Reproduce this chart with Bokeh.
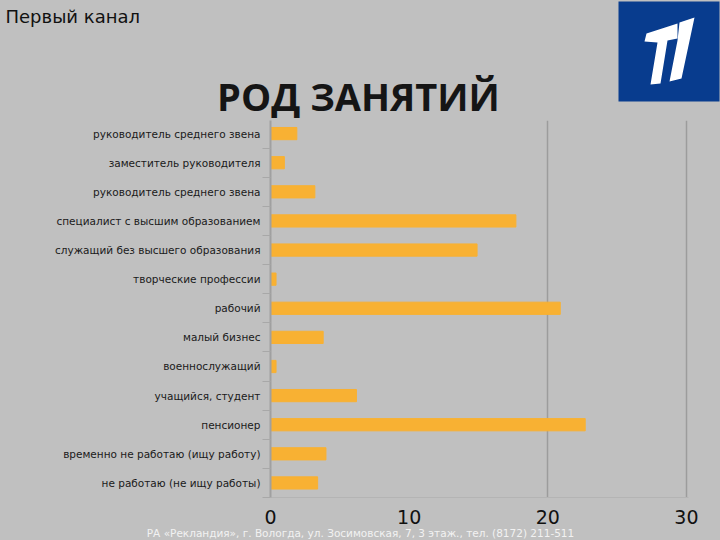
from bokeh.plotting import figure
from bokeh.layouts import column
from bokeh.models import Range1d, FixedTicker
from bokeh.core.properties import value
from bokeh.embed import file_html
from bokeh.resources import INLINE

# ---- data ----
categories = [
    "руководитель среднего звена",
    "заместитель руководителя",
    "руководитель среднего звена",
    "специалист с высшим образованием",
    "служащий без высшего образования",
    "творческие профессии",
    "рабочий",
    "малый бизнес",
    "военнослужащий",
    "учащийся, студент",
    "пенсионер",
    "временно не работаю (ищу работу)",
    "не работаю (не ищу работы)",
]
values = [1.9, 1.0, 3.2, 17.7, 14.9, 0.4, 20.9, 3.8, 0.4, 6.2, 22.7, 4.0, 3.4]
x_ticks = [0, 10, 20, 30]
grid_ticks = [20, 30]
title_text = "РОД ЗАНЯТИЙ"
channel_text = "Первый канал"
footer_text = "РА «Рекландия», г. Вологда, ул. Зосимовская, 7, 3 этаж., тел. (8172) 211-511"

positions = list(range(len(categories)))
BG = "#c0c0c0"
W = 720
HEAD_H, MAIN_H, FOOT_H = 118, 408, 14


def blank(height):
    f = figure(width=W, height=height, output_backend="svg", toolbar_location=None,
               x_range=Range1d(0, W), y_range=Range1d(height, 0),
               x_axis_type=None, y_axis_type=None,
               min_border=0, min_border_left=0, min_border_right=0,
               min_border_top=0, min_border_bottom=0)
    f.background_fill_color = BG
    f.border_fill_color = BG
    f.outline_line_color = None
    f.grid.grid_line_color = None
    f.frame_align = False
    return f


# ---- header ----
head = blank(HEAD_H)
head.text(x=[5], y=[16], text=[channel_text], text_font=value("DejaVu Sans"),
          text_font_size="18px", text_color="#111111", text_baseline="middle",
          text_align="left")
head.text(x=[358], y=[95], text=[title_text], text_font=value("Open Sans"),
          text_font_style="bold", text_font_size="38px", text_color="#151515",
          text_baseline="middle", text_align="center", text_line_height=1.0)
# channel logo
head.quad(left=[618], right=[719], top=[1], bottom=[101], fill_color="#083c8e", line_color=None)
head.patch(x=[646, 677, 677, 667, 660, 650, 657, 644],
           y=[33, 23, 38, 40, 83, 84, 42, 41], fill_color="white", line_color=None)
head.patch(x=[679, 694, 681, 669, 677], y=[22, 17, 78, 81, 40],
           fill_color="white", line_color=None)

# ---- main chart ----
p = figure(width=W, height=MAIN_H, output_backend="svg", toolbar_location=None,
           x_range=Range1d(0, 30.15), y_range=Range1d(len(categories) - 0.5, -0.45),
           min_border_left=270, min_border_right=32, min_border_top=120 - HEAD_H,
           min_border_bottom=HEAD_H + MAIN_H - 498)
p.background_fill_color = BG
p.border_fill_color = BG
p.outline_line_color = None
p.frame_align = False

p.hbar(y=positions, right=values, left=0, height=0.42, color="#f8b133")

p.yaxis.ticker = FixedTicker(ticks=positions,
                             minor_ticks=[i + 0.5 for i in range(-1, len(categories))])
p.yaxis.major_label_overrides = {i: c for i, c in enumerate(categories)}
p.yaxis.major_tick_out = 0
p.yaxis.major_tick_in = 0
p.yaxis.minor_tick_out = 8
p.yaxis.minor_tick_in = 0
p.yaxis.minor_tick_line_color = "#a8a8a8"
p.yaxis.axis_line_color = "#a0a0a0"
p.yaxis.axis_line_width = 2
p.yaxis.major_label_standoff = 2
p.yaxis.major_label_text_font = "DejaVu Sans"
p.yaxis.major_label_text_font_size = "10.5px"
p.yaxis.major_label_text_color = "#1a1a1a"

p.xaxis.ticker = FixedTicker(ticks=x_ticks)
p.xaxis.axis_line_color = "#b4b4b4"
p.xaxis.major_tick_line_color = None
p.xaxis.minor_tick_line_color = None
p.xaxis.major_label_standoff = 6
p.xaxis.major_label_text_font = "DejaVu Sans"
p.xaxis.major_label_text_font_size = "19px"
p.xaxis.major_label_text_color = "#111111"

p.ygrid.grid_line_color = None
p.xgrid.ticker = FixedTicker(ticks=grid_ticks)
p.xgrid.grid_line_color = "#9c9c9c"
p.xgrid.grid_line_width = 1.5

# ---- footer ----
foot = blank(FOOT_H)
foot.text(x=[360], y=[6], text=[footer_text], text_font=value("DejaVu Sans"),
          text_font_size="10.5px", text_color="#f2f2f2", text_baseline="middle",
          text_align="center")

layout = column(head, p, foot, spacing=0)

template = """
{% block postamble %}
<style>html, body { background: #c0c0c0; }</style>
{% endblock %}
"""
open("out.html", "w").write(file_html(layout, INLINE, template=template))
